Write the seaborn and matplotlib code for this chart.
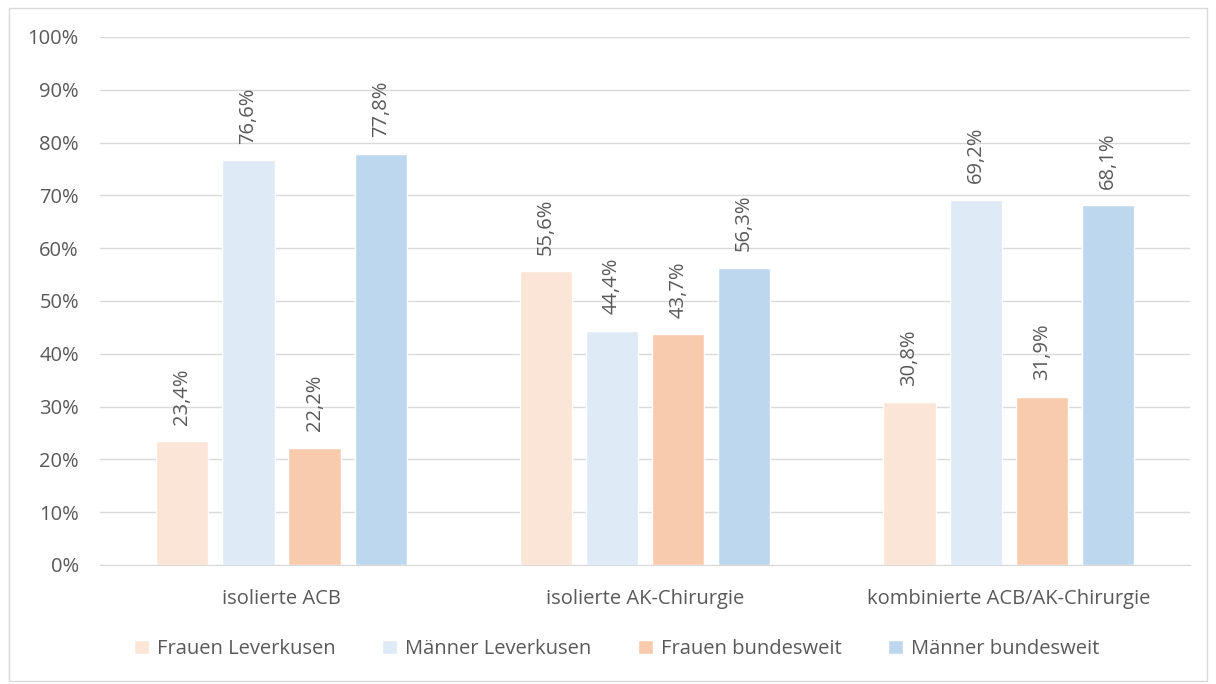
import matplotlib.pyplot as plt
import seaborn as sns
import pandas as pd
from matplotlib.patches import Rectangle

categories = ["isolierte ACB", "isolierte AK-Chirurgie", "kombinierte ACB/AK-Chirurgie"]
series = ["Frauen Leverkusen", "Männer Leverkusen", "Frauen bundesweit", "Männer bundesweit"]
frauen_lev = [23.4, 55.6, 30.8]
maenner_lev = [76.6, 44.4, 69.2]
frauen_bund = [22.2, 43.7, 31.9]
maenner_bund = [77.8, 56.3, 68.1]
colors = ["#FBE5D6", "#DEEBF7", "#F8CBAD", "#BDD7EE"]

rows = []
for s, vals in zip(series, [frauen_lev, maenner_lev, frauen_bund, maenner_bund]):
    for c, v in zip(categories, vals):
        rows.append({"Kategorie": c, "Gruppe": s, "Wert": v})
df = pd.DataFrame(rows)

sns.set_style("white")
plt.rcParams["font.family"] = ["Open Sans", "DejaVu Sans"]
text_col = "#595959"
fs = 14.5

fig = plt.figure(figsize=(12.16, 6.84), dpi=100)
ax = fig.add_axes([0.082, 0.174, 0.897, 0.772])
sns.barplot(data=df, x="Kategorie", y="Wert", hue="Gruppe", hue_order=series,
            palette=colors, width=0.727, gap=0.21, saturation=1, ax=ax, legend=True)

for cont in ax.containers:
    labels = [f"{v:.1f}%".replace(".", ",") for v in cont.datavalues]
    ax.bar_label(cont, labels=labels, rotation=90, padding=12, fontsize=fs, color=text_col)

ax.set_ylim(0, 100)
ax.set_yticks(range(0, 101, 10))
ax.set_yticklabels([f"{t}%" for t in range(0, 101, 10)])
ax.set_xlim(-0.5, 2.5)
ax.grid(axis="y", color="#D9D9D9", linewidth=1)
ax.set_axisbelow(True)
for side in ["top", "right", "left"]:
    ax.spines[side].set_visible(False)
ax.spines["bottom"].set_color("#D9D9D9")
ax.tick_params(axis="both", length=0, labelsize=fs, labelcolor=text_col)
ax.tick_params(axis="y", pad=15)
ax.tick_params(axis="x", pad=17)
ax.set_xlabel("")
ax.set_ylabel("")

ax.legend(loc="center", bbox_to_anchor=(0.507, 0.051), bbox_transform=fig.transFigure,
          ncol=4, frameon=False,
          fontsize=fs, labelcolor=text_col, handlelength=0.75, handleheight=0.75,
          columnspacing=2.3, handletextpad=0.4)

fig.add_artist(Rectangle((0.007, 0.005), 0.986, 0.983, transform=fig.transFigure,
                         fill=False, edgecolor="#D9D9D9", linewidth=1))

fig.savefig("out.png", dpi=100)
